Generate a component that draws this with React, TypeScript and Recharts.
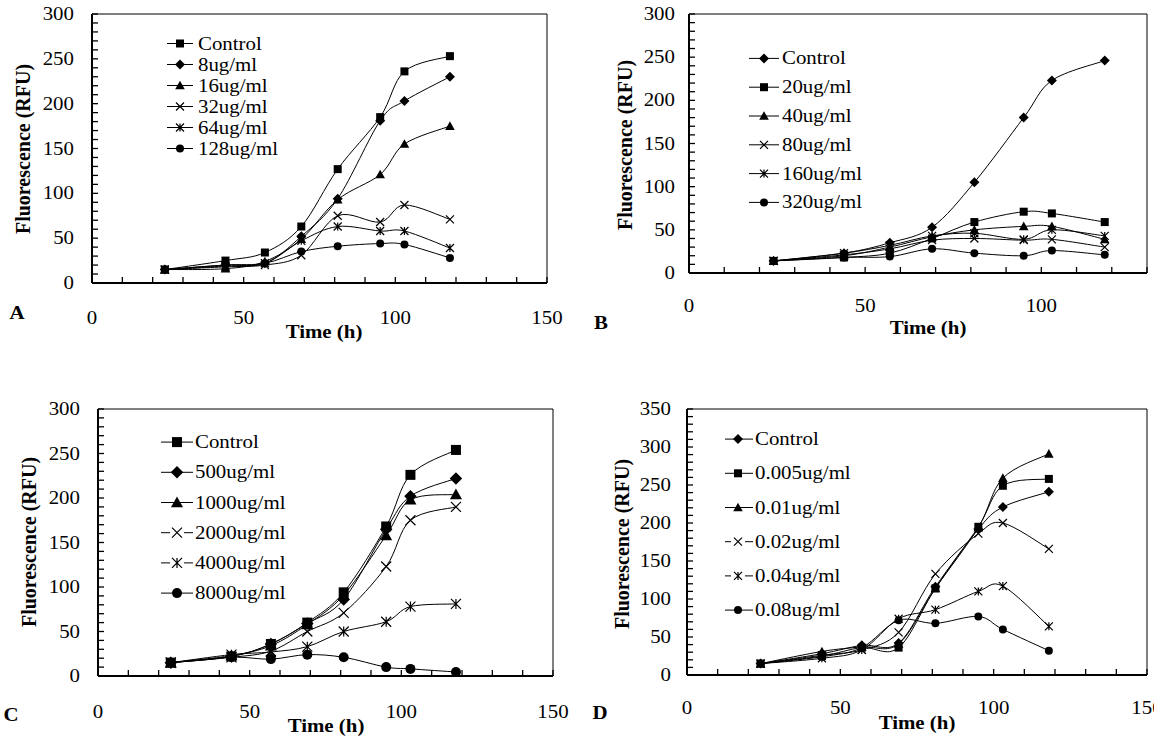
import React from "react";
import { LineChart, Line, XAxis, YAxis, ReferenceArea, Legend } from "recharts";

const SERIF = '"Liberation Serif", "Times New Roman", serif';
const SX = 1.16; // the figure is a little stretched sideways

// sampling times (h), shared by all four panels
const times = [24, 44, 57, 69, 81, 95, 103, 118];

// panel A
const aLabels = ["Control", "8ug/ml", "16ug/ml", "32ug/ml", "64ug/ml", "128ug/ml"];
const aControl = [15, 25, 34, 63, 127, 185, 236, 253];
const a8 = [15, 20, 22, 52, 94, 181, 203, 230];
const a16 = [15, 16, 24, 49, 93, 121, 155, 175];
const a32 = [15, 18, 20, 31, 75, 68, 87, 71];
const a64 = [15, 19, 22, 47, 63, 58, 58, 39];
const a128 = [15, 20, 22, 35, 41, 44, 43, 28];

// panel B
const bLabels = ["Control", "20ug/ml", "40ug/ml", "80ug/ml", "160ug/ml", "320ug/ml"];
const bControl = [14, 23, 35, 53, 105, 180, 223, 246];
const b20 = [14, 18, 23, 40, 59, 71, 69, 59];
const b40 = [14, 20, 30, 42, 50, 54, 54, 39];
const b80 = [14, 21, 28, 38, 40, 38, 39, 30];
const b160 = [14, 23, 32, 43, 46, 39, 50, 43];
const b320 = [14, 18, 19, 28, 23, 20, 26, 21];

// panel C
const cLabels = ["Control", "500ug/ml", "1000ug/ml", "2000ug/ml", "4000ug/ml", "8000ug/ml"];
const cControl = [15, 22, 36, 60, 94, 168, 226, 254];
const c500 = [15, 22, 36, 59, 86, 165, 202, 222];
const c1000 = [15, 23, 34, 58, 91, 158, 198, 204];
const c2000 = [15, 21, 28, 50, 71, 123, 175, 190];
const c4000 = [15, 24, 27, 33, 50, 61, 78, 81];
const c8000 = [15, 21, 19, 24, 21, 10, 8, 4.5];

// panel D
const dLabels = ["Control", "0.005ug/ml", "0.01ug/ml", "0.02ug/ml", "0.04ug/ml", "0.08ug/ml"];
const dControl = [15, 28, 39, 42, 116, 192, 221, 241];
const d005 = [15, 25, 36, 36, 114, 195, 249, 258];
const d01 = [15, 31, 37, 41, 114, 194, 259, 291];
const d02 = [15, 26, 33, 56, 133, 186, 200, 166];
const d04 = [15, 22, 33, 74, 86, 110, 117, 64];
const d08 = [15, 24, 36, 72, 68, 77, 60, 32];

const marksA = ["square", "diamond", "triangle", "x", "star", "circle"];
const marksB = ["diamond", "square", "triangle", "x", "star", "circle"];

const steps = (max: number, step: number) => {
  const out: number[] = [];
  for (let v = 0; v <= max; v += step) out.push(v);
  return out;
};

// Excel-like smoothed line (cubic bezier through every point)
const smoothCurve = (ctx: any) => {
  let px: number[] = [];
  let py: number[] = [];
  return {
    areaStart() {},
    areaEnd() {},
    lineStart() {
      px = [];
      py = [];
    },
    point(x: number, y: number) {
      px.push(+x);
      py.push(+y);
    },
    lineEnd() {
      const n = px.length;
      if (!n) return;
      ctx.moveTo(px[0], py[0]);
      for (let i = 0; i < n - 1; i++) {
        const i0 = Math.max(i - 1, 0);
        const i3 = Math.min(i + 2, n - 1);
        ctx.bezierCurveTo(
          px[i] + (px[i + 1] - px[i0]) / 6,
          py[i] + (py[i + 1] - py[i0]) / 6,
          px[i + 1] - (px[i3] - px[i]) / 6,
          py[i + 1] - (py[i3] - py[i]) / 6,
          px[i + 1],
          py[i + 1]
        );
      }
    },
  };
};

function SText({ x, y, children, anchor = "middle", size = 18, bold = false, rotate = 0, sx = SX }: any) {
  const tf = rotate
    ? `translate(${x},${y}) rotate(${rotate}) scale(1,${sx})`
    : `translate(${x},${y}) scale(${sx},1)`;
  return (
    <text
      transform={tf}
      textAnchor={anchor}
      dominantBaseline="central"
      fontSize={size}
      fontWeight={bold ? "bold" : "normal"}
      fontFamily={SERIF}
      fill="#000"
    >
      {children}
    </text>
  );
}

function Mark({ kind, cx, cy, s }: any) {
  if (cx == null || cy == null) return <g />;
  const h = s / 2;
  switch (kind) {
    case "square":
      return <rect x={cx - h} y={cy - h} width={s} height={s} fill="#000" />;
    case "diamond": {
      const r = h * 1.25;
      return <polygon points={`${cx},${cy - r} ${cx + r},${cy} ${cx},${cy + r} ${cx - r},${cy}`} fill="#000" />;
    }
    case "triangle": {
      const r = h * 1.2;
      return <polygon points={`${cx},${cy - r} ${cx + r},${cy + r * 0.8} ${cx - r},${cy + r * 0.8}`} fill="#000" />;
    }
    case "circle":
      return <circle cx={cx} cy={cy} r={h} fill="#000" />;
    case "x":
      return (
        <path
          d={`M${cx - h},${cy - h}L${cx + h},${cy + h}M${cx - h},${cy + h}L${cx + h},${cy - h}`}
          stroke="#000"
          strokeWidth={1.2}
          fill="none"
        />
      );
    default:
      return (
        <path
          d={`M${cx - h},${cy - h}L${cx + h},${cy + h}M${cx - h},${cy + h}L${cx + h},${cy - h}M${cx},${cy - h}L${cx},${cy + h}`}
          stroke="#000"
          strokeWidth={1.2}
          fill="none"
        />
      );
  }
}

// tick mark drawn inside the plot, label only on multiples of 50
const XTick = (props: any) => {
  const { x, y, payload, off } = props;
  const axisY = y - off;
  return (
    <g>
      <line x1={x} x2={x} y1={axisY} y2={axisY - 6} stroke="#000" strokeWidth={1.3} />
      {payload.value % 50 === 0 && <SText x={x} y={y}>{payload.value}</SText>}
    </g>
  );
};

const YTick = (props: any) => {
  const { x, y, payload, gap } = props;
  const axisX = x + gap;
  return (
    <g>
      <line x1={axisX} x2={axisX + 6} y1={y} y2={y} stroke="#000" strokeWidth={1.3} />
      {payload.value % 50 === 0 && (
        <SText x={x} y={y} anchor="end">
          {payload.value}
        </SText>
      )}
    </g>
  );
};

function LegendBox({ cfg }: any) {
  const L = cfg.legend;
  return (
    <svg width={240} height={L.rowH * cfg.labels.length} style={{ display: "block", overflow: "visible" }}>
      {cfg.labels.map((name: string, i: number) => {
        const cy = L.rowH * (i + 0.5);
        const kind = cfg.marks[i];
        const gap = L.gapped && (kind === "x" || kind === "star");
        return (
          <g key={name}>
            {gap ? (
              <path d={`M0,${cy}H${L.mark - 7}M${L.mark + 7},${cy}H${L.line}`} stroke="#000" strokeWidth={1} />
            ) : (
              <line x1={0} x2={L.line} y1={cy} y2={cy} stroke="#000" strokeWidth={1} />
            )}
            <Mark kind={kind} cx={L.mark} cy={cy} s={cfg.markSize} />
            <SText x={L.text} y={cy} anchor="start">
              {name}
            </SText>
          </g>
        );
      })}
    </svg>
  );
}

const panels = [
  {
    id: "A",
    labels: aLabels,
    series: [aControl, a8, a16, a32, a64, a128],
    marks: marksA,
    left: 0, top: 0, width: 580, height: 370,
    plotTop: 14, plotRight: 547, yAxisW: 92, xAxisH: 87,
    xMax: 150, yMax: 300, yGap: 18, xOff: 35, markSize: 8,
    xTitle: [324, 332], yTitle: [23, 149], letter: [17, 313],
    legend: { left: 167, top: 32.5, rowH: 21, line: 26, mark: 13, text: 31, gapped: false },
  },
  {
    id: "B",
    labels: bLabels,
    series: [bControl, b20, b40, b80, b160, b320],
    marks: marksB,
    left: 580, top: 0, width: 574, height: 370,
    plotTop: 14, plotRight: 567, yAxisW: 109, xAxisH: 97,
    xMax: 130, yMax: 300, yGap: 14, xOff: 33, markSize: 8,
    xTitle: [348, 328], yTitle: [45, 145], letter: [21, 323],
    legend: { left: 169, top: 43.6, rowH: 28.8, line: 30, mark: 15, text: 33, gapped: false },
  },
  {
    id: "C",
    labels: cLabels,
    series: [cControl, c500, c1000, c2000, c4000, c8000],
    marks: marksA,
    left: 0, top: 370, width: 580, height: 370,
    plotTop: 39, plotRight: 553, yAxisW: 98, xAxisH: 64,
    xMax: 150, yMax: 300, yGap: 18, xOff: 36, markSize: 10,
    xTitle: [326, 356], yTitle: [29, 172], letter: [11, 345],
    legend: { left: 161, top: 57, rowH: 30.2, line: 32, mark: 16, text: 34, gapped: true },
  },
  {
    id: "D",
    labels: dLabels,
    series: [dControl, d005, d01, d02, d04, d08],
    marks: marksB,
    left: 580, top: 370, width: 574, height: 370,
    plotTop: 39, plotRight: 567, yAxisW: 107, xAxisH: 65,
    xMax: 150, yMax: 350, yGap: 16, xOff: 33, markSize: 8,
    xTitle: [337, 353], yTitle: [42, 174], letter: [20, 343],
    legend: { left: 145, top: 52, rowH: 34.2, line: 28, mark: 13, text: 30, gapped: true },
  },
];

function Panel({ cfg }: any) {
  const data = times.map((t, i) => {
    const row: any = { t };
    cfg.series.forEach((s: number[], k: number) => {
      row["s" + k] = s[i];
    });
    return row;
  });

  return (
    <div style={{ position: "absolute", left: cfg.left, top: cfg.top }}>
      <LineChart
        width={cfg.width}
        height={cfg.height}
        data={data}
        margin={{ top: cfg.plotTop, right: cfg.width - cfg.plotRight, left: 0, bottom: 0 }}
      >
        <XAxis
          type="number"
          dataKey="t"
          domain={[0, cfg.xMax]}
          ticks={steps(cfg.xMax, 10)}
          interval={0}
          height={cfg.xAxisH}
          tickSize={0}
          tickMargin={cfg.xOff}
          tick={<XTick off={cfg.xOff} />}
          tickLine={false}
          axisLine={{ stroke: "#000", strokeWidth: 2 }}
          label={{
            value: "Time (h)",
            content: () => (
              <g>
                <SText x={cfg.xTitle[0]} y={cfg.xTitle[1]} bold>
                  Time (h)
                </SText>
                <SText x={cfg.letter[0]} y={cfg.letter[1]} bold>
                  {cfg.id}
                </SText>
              </g>
            ),
          }}
        />
        <YAxis
          type="number"
          domain={[0, cfg.yMax]}
          ticks={steps(cfg.yMax, 10)}
          interval={0}
          width={cfg.yAxisW}
          tickSize={0}
          tickMargin={cfg.yGap}
          tick={<YTick gap={cfg.yGap} />}
          tickLine={false}
          axisLine={{ stroke: "#000", strokeWidth: 2 }}
          label={{
            value: "Fluorescence (RFU)",
            content: () => (
              <SText x={cfg.yTitle[0]} y={cfg.yTitle[1]} bold rotate={-90} size={20} sx={1}>
                Fluorescence (RFU)
              </SText>
            ),
          }}
        />
        <ReferenceArea
          x1={0}
          x2={cfg.xMax}
          y1={0}
          y2={cfg.yMax}
          fill="none"
          stroke="#000"
          strokeWidth={1}
          ifOverflow="visible"
        />
        {cfg.series.map((_: number[], k: number) => (
          <Line
            key={k}
            type={smoothCurve as any}
            dataKey={"s" + k}
            name={cfg.labels[k]}
            stroke="#000"
            strokeWidth={1}
            dot={(p: any) => <Mark key={`${k}-${p.index}`} kind={cfg.marks[k]} cx={p.cx} cy={p.cy} s={cfg.markSize} />}
            activeDot={false}
            isAnimationActive={false}
          />
        ))}
        <Legend
          layout="vertical"
          align="center"
          verticalAlign="middle"
          content={() => <LegendBox cfg={cfg} />}
          wrapperStyle={{ left: cfg.legend.left, top: cfg.legend.top, width: 240, height: "auto" }}
        />
      </LineChart>
    </div>
  );
}

export default function App() {
  return (
    <div
      style={{
        position: "absolute",
        left: 0,
        top: 0,
        width: 1154,
        height: 740,
        background: "#fff",
        overflow: "hidden",
      }}
    >
      {panels.map((p) => (
        <Panel key={p.id} cfg={p} />
      ))}
    </div>
  );
}
